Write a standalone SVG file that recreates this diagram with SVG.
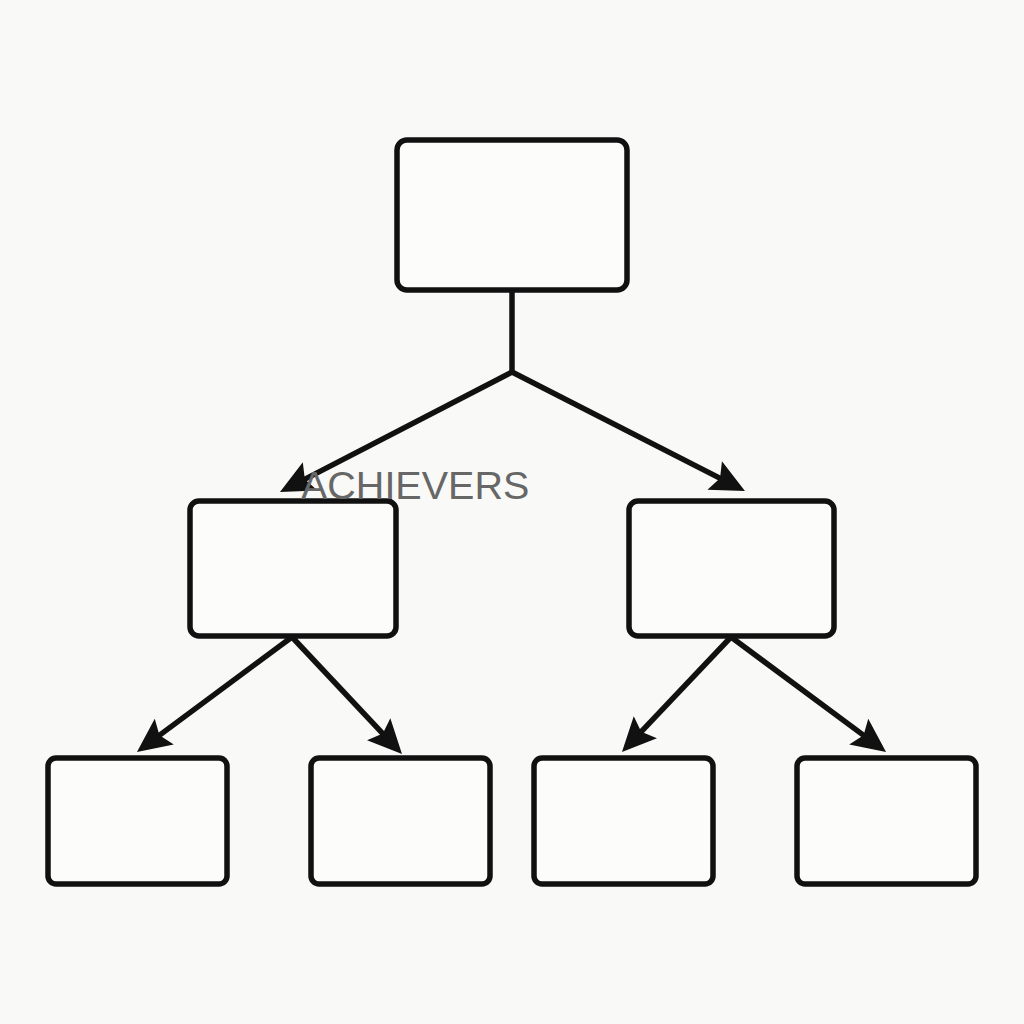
<svg xmlns="http://www.w3.org/2000/svg" width="1024" height="1024" viewBox="0 0 1024 1024">
<style>
.box{fill:#fcfcfb;stroke:#111;stroke-width:5.5;}
.link{fill:none;stroke:#111;stroke-width:5.5;stroke-linejoin:round;}
.label{font-family:"Liberation Sans",Arial,sans-serif;font-size:39.5px;fill:#676767;}
</style>
<defs>
<marker id="arr" markerUnits="userSpaceOnUse" markerWidth="40" markerHeight="34" refX="20" refY="16" orient="auto" overflow="visible">
<path d="M0,0 L34,16 L0,32 L6,16 Z" fill="#111"/>
</marker>
</defs>
<rect width="1024" height="1024" fill="#f9f9f8"/>
<g id="connectors">
<path class="link" d="M512,290 L512,372"/>
<path class="link" d="M512,372 L292.4,485.6" marker-end="url(#arr)"/>
<path class="link" d="M512,372 L732.5,484.6" marker-end="url(#arr)"/>
<path class="link" d="M292,637 L148.2,743.6" marker-end="url(#arr)"/>
<path class="link" d="M292,637 L392.4,743.8" marker-end="url(#arr)"/>
<path class="link" d="M731,637 L631.6,741.8" marker-end="url(#arr)"/>
<path class="link" d="M731,637 L874.8,743.6" marker-end="url(#arr)"/>
</g>
<g id="root"><rect class="box" x="397" y="140" width="230" height="150" rx="10"/></g>
<g id="mid-left"><rect class="box" x="190" y="501" width="206" height="135" rx="9"/></g>
<g id="mid-right"><rect class="box" x="629" y="501" width="205" height="135" rx="9"/></g>
<g id="leaf-1"><rect class="box" x="48" y="758" width="179" height="126" rx="8"/></g>
<g id="leaf-2"><rect class="box" x="311" y="758" width="179" height="126" rx="8"/></g>
<g id="leaf-3"><rect class="box" x="534" y="758" width="179" height="126" rx="8"/></g>
<g id="leaf-4"><rect class="box" x="797" y="758" width="179" height="126" rx="8"/></g>
<g id="watermark"><text class="label" x="301" y="499">ACHIEVERS</text></g>
</svg>
